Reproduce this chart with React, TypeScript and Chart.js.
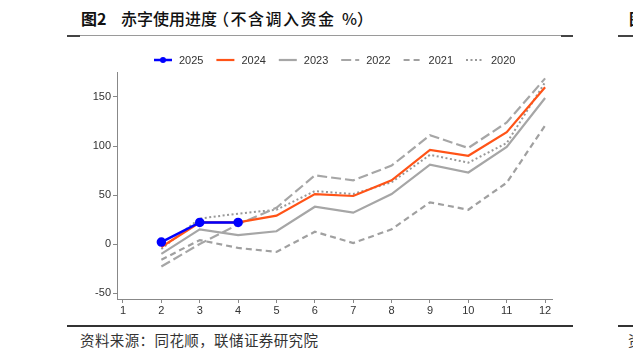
import React, { useEffect, useRef } from "react";
import { Chart, registerables } from "chart.js";

Chart.register(...registerables);

const months = [2, 3, 4, 5, 6, 7, 8, 9, 10, 11, 12];
const xTicks = [1, 2, 3, 4, 5, 6, 7, 8, 9, 10, 11, 12];
const yTicks = [-50, 0, 50, 100, 150];

const s2025 = [2, 22, 22];
const s2024 = [-3, 22, 22, 29, 51, 49, 65, 96, 90, 114, 160];
const s2023 = [-10, 15, 9, 13, 38, 32, 51, 81, 73, 99, 149];
const s2022 = [-23, 0, 20, 37, 70, 65, 80, 111, 98, 124, 169];
const s2021 = [-16, 4, -4, -8, 12.5, 1, 15, 42.5, 35, 62.5, 121];
const s2020 = [-5, 26, 31, 35, 54, 51, 63, 91, 83, 103, 165];

const seriesNames = ["2025", "2024", "2023", "2022", "2021", "2020"];

const toPts = (vals: number[]) => vals.map((v, i) => ({ x: months[i], y: v }));

const legendPlugin = {
  id: "customLegend",
  afterDraw(chart: any) {
    const ctx = chart.ctx;
    const startX = 154;
    const step = 62.4;
    const y = 60;
    ctx.save();
    chart.data.datasets.forEach((ds: any, i: number) => {
      const x0 = startX + i * step;
      ctx.beginPath();
      ctx.strokeStyle = ds.borderColor;
      ctx.lineWidth = ds.borderWidth;
      ctx.setLineDash(ds.borderDash || []);
      ctx.moveTo(x0, y);
      ctx.lineTo(x0 + 18, y);
      ctx.stroke();
      ctx.setLineDash([]);
      if (ds.pointRadius > 0) {
        ctx.beginPath();
        ctx.fillStyle = ds.borderColor;
        ctx.arc(x0 + 9, y, 3, 0, Math.PI * 2);
        ctx.fill();
      }
      ctx.fillStyle = "#333";
      ctx.font = "11px 'Liberation Sans', Arial, sans-serif";
      ctx.textBaseline = "middle";
      ctx.textAlign = "left";
      ctx.fillText(ds.label, x0 + 25, y + 0.5);
    });
    ctx.restore();
  },
};

export default function App() {
  const ref = useRef<HTMLCanvasElement | null>(null);

  useEffect(() => {
    if (!ref.current) return;
    const gray = "#A6A6A6";
    const chart = new Chart(ref.current, {
      type: "line",
      data: {
        datasets: [
          {
            label: seriesNames[0],
            data: toPts(s2025),
            borderColor: "#0000FF",
            backgroundColor: "#0000FF",
            borderWidth: 2.5,
            pointRadius: 3.5,
            pointHoverRadius: 3.5,
          },
          {
            label: seriesNames[1],
            data: toPts(s2024),
            borderColor: "#FF5317",
            borderWidth: 2.2,
            pointRadius: 0,
          },
          {
            label: seriesNames[2],
            data: toPts(s2023),
            borderColor: gray,
            borderWidth: 2.2,
            pointRadius: 0,
          },
          {
            label: seriesNames[3],
            data: toPts(s2022),
            borderColor: gray,
            borderWidth: 2.2,
            borderDash: [10, 4],
            pointRadius: 0,
          },
          {
            label: seriesNames[4],
            data: toPts(s2021),
            borderColor: "#A0A0A0",
            borderWidth: 2.2,
            borderDash: [6, 4],
            pointRadius: 0,
          },
          {
            label: seriesNames[5],
            data: toPts(s2020),
            borderColor: "#999999",
            borderWidth: 2,
            borderDash: [2, 2.5],
            pointRadius: 0,
          },
        ] as any,
      },
      options: {
        animation: false,
        responsive: false,
        devicePixelRatio: 1,
        layout: { padding: { left: 77, right: 81, top: 72, bottom: 39 } },
        plugins: { legend: { display: false }, tooltip: { enabled: false } },
        elements: { line: { tension: 0 } },
        scales: {
          x: {
            type: "linear",
            min: 0.844,
            max: 12.18,
            afterBuildTicks: (s: any) => {
              s.ticks = xTicks.map((v) => ({ value: v }));
            },
            afterFit: (s: any) => {
              s.height = 20;
            },
            grid: {
              drawOnChartArea: false,
              drawTicks: true,
              tickLength: 4,
              color: "#888",
            },
            border: { display: true, color: "#888", width: 1 },
            ticks: {
              padding: 1,
              color: "#333",
              font: { family: "'Liberation Sans', Arial, sans-serif", size: 11 },
              maxRotation: 0,
              autoSkip: false,
            },
          },
          y: {
            type: "linear",
            min: -56.1,
            max: 175.5,
            afterBuildTicks: (s: any) => {
              s.ticks = yTicks.map((v) => ({ value: v }));
            },
            afterFit: (s: any) => {
              s.width = 40;
            },
            grid: {
              drawOnChartArea: false,
              drawTicks: true,
              tickLength: 4,
              color: "#888",
            },
            border: { display: true, color: "#888", width: 1 },
            ticks: {
              padding: 2,
              color: "#333",
              font: { family: "'Liberation Sans', Arial, sans-serif", size: 11 },
              autoSkip: false,
            },
          },
        },
      },
      plugins: [legendPlugin],
    });
    return () => chart.destroy();
  }, []);

  const cjk = "'Noto Sans CJK SC', 'Noto Sans', sans-serif";
  const titleStyle: React.CSSProperties = {
    position: "absolute",
    top: 6,
    fontFamily: cjk,
    fontSize: 16,
    color: "#111",
    lineHeight: "24px",
    whiteSpace: "pre",
  };

  return (
    <div
      style={{
        position: "fixed",
        left: 0,
        top: 0,
        width: 633,
        height: 358,
        overflow: "hidden",
        background: "#fff",
      }}
    >
      <div style={{ ...titleStyle, left: 81, fontWeight: 700 }}>图2</div>
      <div style={{ ...titleStyle, left: 121, fontWeight: 500 }}>赤字使用进度</div>
      <div style={{ ...titleStyle, left: 213, fontWeight: 500, letterSpacing: 1.5 }}>
        （不含调入资金
      </div>
      <div style={{ ...titleStyle, left: 342, fontWeight: 500 }}>%）</div>
      <div style={{ ...titleStyle, left: 629, fontWeight: 700 }}>图</div>
      {/* top rule */}
      <div style={{ position: "absolute", left: 67, top: 35, width: 506, height: 1, background: "#9a9a9a" }} />
      <div style={{ position: "absolute", left: 67, top: 35, width: 13, height: 2, background: "#444" }} />
      <div style={{ position: "absolute", left: 561, top: 35, width: 12, height: 2, background: "#444" }} />
      <div style={{ position: "absolute", left: 618, top: 35, width: 15, height: 2, background: "#444" }} />
      {/* bottom rule */}
      <div style={{ position: "absolute", left: 67, top: 325, width: 506, height: 2, background: "#333" }} />
      <div style={{ position: "absolute", left: 618, top: 325, width: 15, height: 2, background: "#333" }} />
      <div
        style={{
          position: "absolute",
          left: 80,
          top: 330,
          fontFamily: cjk,
          fontSize: 14.5,
          fontWeight: 400,
          letterSpacing: 0.4,
          color: "#333",
          lineHeight: "20px",
          whiteSpace: "nowrap",
        }}
      >
        资料来源：同花顺，联储证券研究院
      </div>
      <div
        style={{
          position: "absolute",
          left: 628,
          top: 330,
          fontFamily: cjk,
          fontSize: 14.5,
          color: "#333",
          lineHeight: "20px",
        }}
      >
        资
      </div>
      <canvas
        ref={ref}
        width={633}
        height={358}
        style={{ position: "absolute", left: 0, top: 0, width: 633, height: 358 }}
      />
    </div>
  );
}
